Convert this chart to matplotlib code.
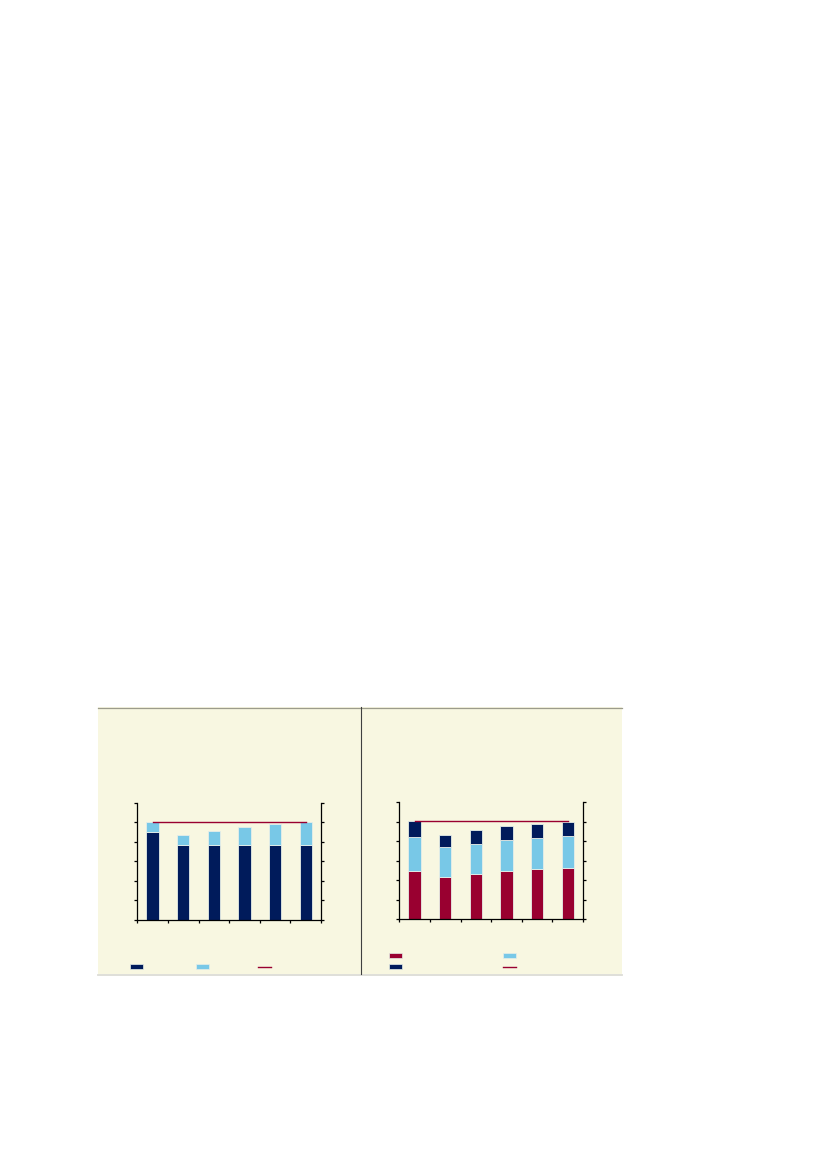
import numpy as np
import matplotlib
matplotlib.use('Agg')
import matplotlib.pyplot as plt
from matplotlib.patches import Rectangle
from matplotlib.lines import Line2D

# Data (units = y tick intervals)
categories = ['1', '2', '3', '4', '5', '6']
left_base = [4.48, 3.83, 3.83, 3.83, 3.83, 3.83]
left_total = [4.99, 4.33, 4.55, 4.75, 4.90, 4.99]
left_target = [5.0, 5.0, 5.0, 5.0, 5.0, 5.0]

right_red = [2.48, 2.17, 2.32, 2.48, 2.58, 2.65]
right_light = [1.74, 1.54, 1.54, 1.57, 1.59, 1.61]
right_dark = [0.81, 0.63, 0.70, 0.72, 0.73, 0.75]
right_target = [5.03, 5.03, 5.03, 5.03, 5.03, 5.03]

NAVY = '#001B5B'
LIGHT = '#78C8E7'
RED = '#990030'
BG = '#F8F7E1'
EDGE = '#E6EEE8'

W, H = 826, 1169
fig = plt.figure(figsize=(W / 100, H / 100), dpi=100)


def fx(px):
    return px / W


def fy(py):
    return 1 - py / H


# panel background and borders (drawn below the axes)
fig.patches.append(Rectangle((fx(98), fy(974)), fx(622) - fx(98), fy(707) - fy(974),
                             transform=fig.transFigure, facecolor=BG, edgecolor='none', zorder=-2))
fig.lines.append(Line2D([fx(98), fx(622)], [fy(707.5), fy(707.5)], transform=fig.transFigure,
                        color='#9C9C8C', lw=0.9, zorder=-1))
fig.lines.append(Line2D([fx(98), fx(622)], [fy(974.5), fy(974.5)], transform=fig.transFigure,
                        color='#DCDCD6', lw=1.3, zorder=-1))
fig.lines.append(Line2D([fx(360.5), fx(360.5)], [fy(707), fy(974)], transform=fig.transFigure,
                        color='#404040', lw=0.8, zorder=-1))


def make_axes(left, right, top, bottom):
    ax = fig.add_axes([fx(left), fy(bottom), fx(right) - fx(left), fy(top) - fy(bottom)])
    ax.set_facecolor('none')
    ax.set_xlim(-0.5, len(categories) - 0.5)
    ax.set_ylim(0, 6)
    ax.set_yticks(np.arange(0, 7))
    ax.set_xticks(np.arange(-0.5, len(categories)))
    ax.tick_params(axis='y', which='both', direction='out', length=2.5, width=0.9,
                   left=True, right=True, labelleft=False, labelright=False)
    ax.tick_params(axis='x', direction='out', length=2.5, width=0.9, labelbottom=False)
    ax.spines['top'].set_visible(False)
    for s in ['left', 'right', 'bottom']:
        ax.spines[s].set_linewidth(0.9)
        ax.spines[s].set_color('black')
    return ax


x = np.arange(len(categories))
bw = 0.4

# left chart
ax1 = make_axes(137.3, 321, 802.7, 920)
extra = np.array(left_total) - np.array(left_base)
ax1.bar(x, left_base, bw, color=NAVY, edgecolor=EDGE, linewidth=0.6, zorder=2)
ax1.bar(x, extra, bw, bottom=left_base, color=LIGHT, edgecolor=EDGE, linewidth=0.6, zorder=2)
ax1.plot(x, left_target, color=RED, lw=1.0, zorder=3)

# right chart
ax2 = make_axes(399.3, 583, 802.3, 919.3)
b1 = np.array(right_red)
b2 = b1 + np.array(right_light)
ax2.bar(x, right_red, bw, color=RED, edgecolor=EDGE, linewidth=0.6, zorder=2)
ax2.bar(x, right_light, bw, bottom=b1, color=LIGHT, edgecolor=EDGE, linewidth=0.6, zorder=2)
ax2.bar(x, right_dark, bw, bottom=b2, color=NAVY, edgecolor=EDGE, linewidth=0.6, zorder=2)
ax2.plot(x, right_target, color=RED, lw=1.0, zorder=3)


# legend keys (labels are blank in the source)
def key_patch(x0, y0, color):
    fig.patches.append(Rectangle((fx(x0), fy(y0 + 2.5)), fx(13), 5 / H,
                                 transform=fig.transFigure, facecolor=color,
                                 edgecolor=EDGE, lw=0.5))


def key_line(x0, y0, color):
    fig.lines.append(Line2D([fx(x0), fx(x0 + 13)], [fy(y0), fy(y0)],
                            transform=fig.transFigure, color=color, lw=1.0))


key_patch(130, 966.7, NAVY)
key_patch(196, 966.7, LIGHT)
key_line(258, 966.7, RED)

key_patch(389, 955, RED)
key_patch(503, 955, LIGHT)
key_patch(389, 966.7, NAVY)
key_line(503, 966.7, RED)

fig.savefig('out.png', dpi=100)
